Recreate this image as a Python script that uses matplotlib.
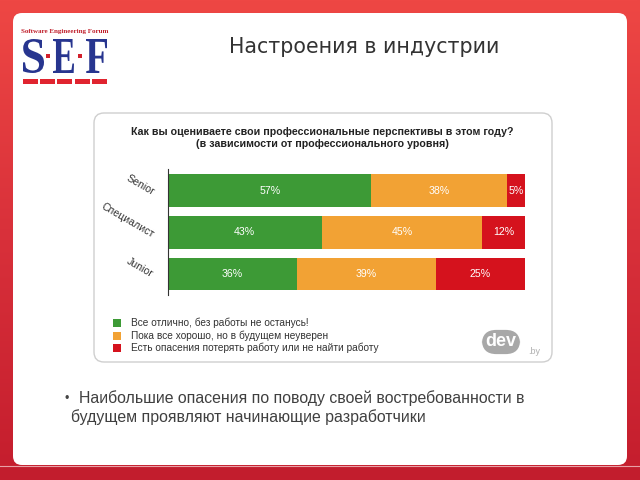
import numpy as np
import matplotlib
matplotlib.use("Agg")
import matplotlib.pyplot as plt
from matplotlib.patches import FancyBboxPatch, Rectangle, PathPatch
from matplotlib.textpath import TextPath
from matplotlib.font_manager import FontProperties
from matplotlib.transforms import Affine2D

# data
levels = ["Senior", "Специалист", "Junior"]
great = [57, 43, 36]
ok = [38, 45, 39]
worried = [5, 12, 25]
answers = ["Все отлично, без работы не останусь!",
           "Пока все хорошо, но в будущем неуверен",
           "Есть опасения потерять работу или не найти работу"]
colors = ["#3d9a36", "#f2a234", "#d5121d"]

slide_title = "Настроения в индустрии"
chart_title = ("Как вы оцениваете свои профессиональные перспективы в этом году?\n"
               "(в зависимости от профессионального уровня)")
note_lines = ["Наибольшие опасения по поводу своей востребованности в",
              "будущем проявляют начинающие разработчики"]

sans = "Liberation Sans"

fig = plt.figure(figsize=(6.4, 4.8), dpi=100)

# background / decoration axes, pixel coordinates
bg = fig.add_axes([0, 0, 1, 1])
bg.set_xlim(0, 640)
bg.set_ylim(480, 0)
bg.axis("off")

grad = np.linspace(0, 1, 256).reshape(-1, 1)
cmap = matplotlib.colors.LinearSegmentedColormap.from_list("r", ["#ee4744", "#d8303a", "#c41d2d"])
bg.imshow(grad, cmap=cmap, extent=[0, 640, 480, 0], aspect="auto", zorder=0)

bg.add_patch(FancyBboxPatch((16, 16), 608, 446, boxstyle="round,pad=3,rounding_size=9",
                            fc="white", ec="none", zorder=1))
bg.add_patch(Rectangle((0, 466), 640, 14, fc="#c21d2d", ec="none", zorder=2))
bg.plot([0, 640], [466, 466], color="#e9a0a6", lw=0.8, zorder=3)

# SEF logo
logo_font = FontProperties(family="Liberation Serif", weight="bold")
for ch, x0 in zip("SEF", [23, 53, 86]):
    tp = TextPath((0, 0), ch, size=100, prop=logo_font)
    ext = tp.get_extents()
    sx = 21 / ext.width
    sy = 34 / ext.height
    tr = Affine2D().translate(-ext.x0, -ext.y0).scale(sx, -sy).translate(x0, 73)
    bg.add_patch(PathPatch(tr.transform_path(tp), fc="#27358f", ec="none", zorder=4))
for x0 in [46, 78]:
    bg.add_patch(Rectangle((x0, 54), 4, 4, fc="#d2202c", ec="none", zorder=4))
for i in range(5):
    bg.add_patch(Rectangle((23 + i * 17.2, 79), 15, 5, fc="#e0242f", ec="none", zorder=4))
bg.text(65, 32, "Software Engineering Forum", ha="center", va="center", fontsize=5.0,
        family="Liberation Serif", weight="bold", color="#c0202c", zorder=4)

bg.text(364, 47, slide_title, ha="center", va="center", fontsize=14.8,
        family="DejaVu Sans", color="#333333", zorder=4)

# chart panel
bg.add_patch(FancyBboxPatch((98, 117), 450, 241, boxstyle="round,pad=4,rounding_size=10",
                            fc="white", ec="#cfcfcf", lw=1, zorder=2))
bg.text(322, 138, chart_title, ha="center", va="center", fontsize=7.7, family=sans,
        weight="bold", color="#222222", linespacing=1.25, zorder=4)

# legend
for i, (lab, c) in enumerate(zip(answers, colors)):
    y = 323 + i * 12.5
    bg.add_patch(Rectangle((113, y - 4), 8, 8, fc=c, ec="none", zorder=4))
    bg.text(131, y, lab, ha="left", va="center", fontsize=7.3, family=sans,
            color="#333333", zorder=4)

# dev.by logo
bg.text(501, 342, "dev", ha="center", va="center", fontsize=13, family=sans, weight="bold",
        color="white", zorder=5,
        bbox=dict(boxstyle="round,pad=0.2,rounding_size=0.8", fc="#a8a8a8", ec="none"))
bg.text(528, 351, ".by", ha="left", va="center", fontsize=6.5, family=sans,
        color="#b0b0b0", zorder=5)

# bullet note
bg.text(67, 399, "•", ha="center", va="center", fontsize=9, family=sans, color="#444444", zorder=4)
bg.text(79, 398, note_lines[0], ha="left", va="center", fontsize=11.4, family=sans,
        color="#404040", zorder=4)
bg.text(71, 417, note_lines[1], ha="left", va="center", fontsize=11.4, family=sans,
        color="#404040", zorder=4)

# bar chart
ax = fig.add_axes([168 / 640, 1 - 295 / 480, (525 - 168) / 640, (295 - 169) / 480])
ax.set_zorder(3)
ax.patch.set_alpha(0)
ypos = np.arange(len(levels))
left = np.zeros(len(levels))
for vals, c in zip([great, ok, worried], colors):
    vals = np.array(vals)
    bars = ax.barh(ypos, vals, left=left, height=0.79, color=c, edgecolor="none")
    for b, v in zip(bars, vals):
        ax.text(b.get_x() + b.get_width() / 2, b.get_y() + b.get_height() / 2, f"{v}%",
                ha="center", va="center", fontsize=7.6, family=sans, color="white")
    left += vals
ax.set_xlim(0, 100)
ax.set_ylim(2.503, -0.515)
ax.set_xticks([])
ax.set_yticks([])
for s in ["top", "right", "bottom"]:
    ax.spines[s].set_visible(False)
ax.spines["left"].set_color("#333333")
ax.spines["left"].set_linewidth(0.8)

label_pos = [(140, 185), (128, 220), (140, 268)]
for lab, (x, y) in zip(levels, label_pos):
    bg.text(x, y, lab, ha="center", va="center", rotation=-30, rotation_mode="anchor",
            fontsize=7.6, family=sans, color="#333333", zorder=4)

fig.savefig("out.png", dpi=100)
